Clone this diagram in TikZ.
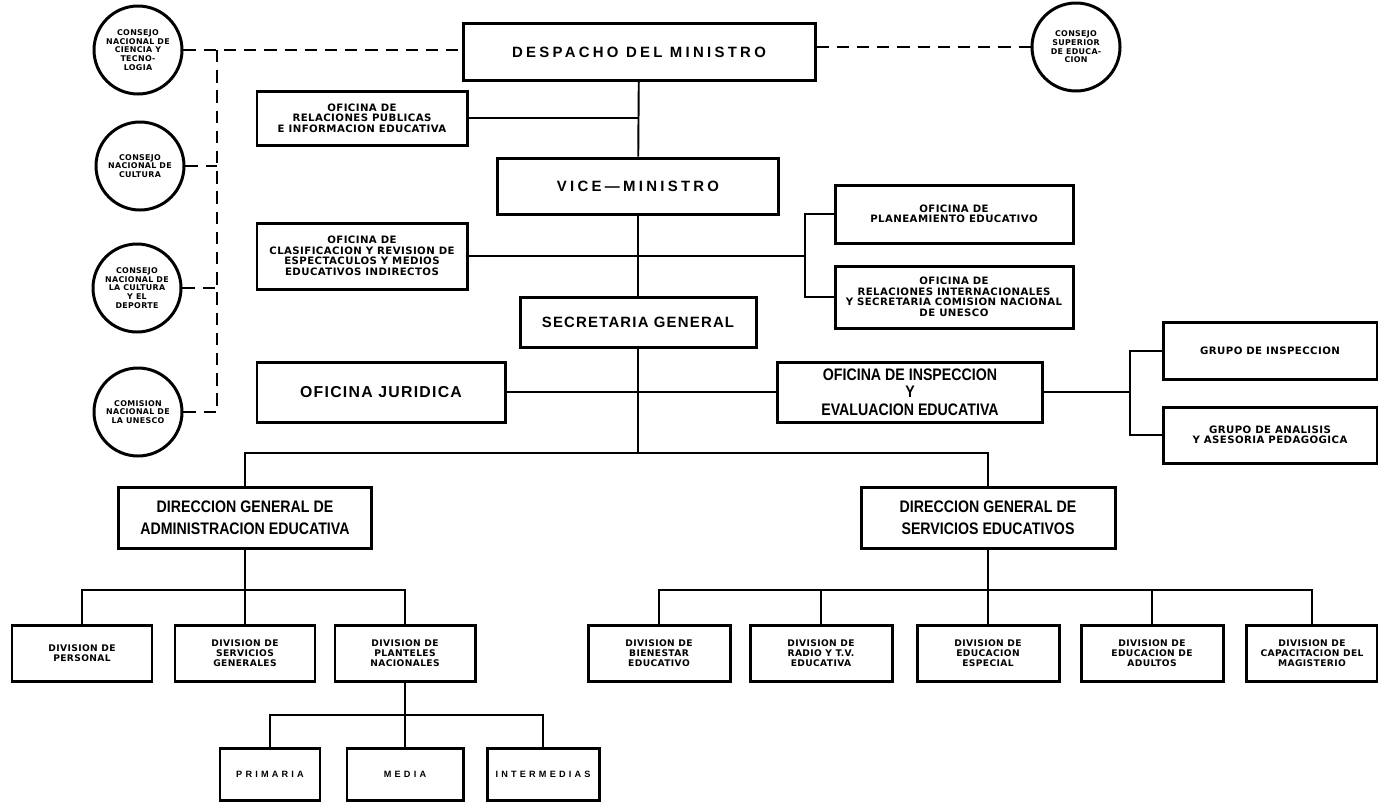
\documentclass[tikz,border=0pt]{standalone}
\usepackage{fontspec}
\setmainfont{Liberation Sans}
\newfontfamily\spacedfont[LetterSpace=22]{Liberation Sans}
\newfontfamily\tightfont[LetterSpace=8]{Liberation Sans}
\newfontfamily\narrowfont[FakeStretch=0.85]{Liberation Sans}
\newfontfamily\widefont[LetterSpace=35]{Liberation Sans}
\newfontfamily\heavyfont[LetterSpace=4]{DejaVu Sans}
\usetikzlibrary{positioning}
\newlength\pxu
\setlength\pxu{0.02cm}

\begin{document}
\begin{tikzpicture}[
    x=0.02cm, y=-0.02cm,
    box/.style={draw, line width=1.7pt, inner sep=0pt, align=center},
    boxsize/.style 2 args={minimum width=#1\pxu, minimum height=#2\pxu},
    chief/.style={box, font=\spacedfont\bfseries\fontsize{8.5}{10}\selectfont},
    office/.style={box, font=\heavyfont\bfseries\fontsize{5.8}{6}\selectfont},
    dirbox/.style={box, font=\narrowfont\bfseries\fontsize{9.5}{12.5}\selectfont},
    division/.style={box, boxsize={140}{56}, font=\heavyfont\bfseries\fontsize{5.2}{5.5}\selectfont},
    school/.style={box, boxsize={110}{52}, font=\widefont\bfseries\fontsize{5.2}{6}\selectfont},
    council/.style={circle, draw, line width=1.7pt, inner sep=0pt, minimum size=88\pxu,
        align=center, font=\heavyfont\bfseries\fontsize{4.5}{4.9}\selectfont},
    link/.style={line width=1.1pt},
    advisory/.style={line width=1.3pt, dash pattern=on 7pt off 4.5pt}
]
\useasboundingbox (0,0) rectangle (1378,802);

% Top - minister and councils
\node[chief, boxsize={352}{57}] (despacho) at (639,52) {DESPACHO DEL MINISTRO};
\node[council] (ciencia) at (138,50) {CONSEJO\\NACIONAL DE\\CIENCIA Y\\TECNO-\\LOGIA};
\node[council] (cultura) at (140,166) {CONSEJO\\NACIONAL DE\\CULTURA};
\node[council] (deporte) at (137,288) {CONSEJO\\NACIONAL DE\\LA CULTURA\\Y EL\\DEPORTE};
\node[council] (unesco) at (138,412) {COMISION\\NACIONAL DE\\LA UNESCO};
\node[council] (superior) at (1076,47) {CONSEJO\\SUPERIOR\\DE EDUCA-\\CION};
\coordinate (dashtop) at (217,50);
\coordinate (dashbot) at (217,412);

% Dashed advisory lines
\draw[advisory] (ciencia.east) -- (ciencia.east -| despacho.west);
\draw[advisory] (despacho.east |- superior.west) -- (superior.west);
\draw[advisory] (dashtop) -- (dashbot);
\draw[advisory] (cultura.east) -- (cultura.east -| dashtop);
\draw[advisory] (deporte.east) -- (deporte.east -| dashtop);
\draw[advisory] (unesco.east) -- (dashbot);

% Staff offices along the trunk
\node[office, boxsize={210}{54}] (relpub) at (362,118) {OFICINA DE\\RELACIONES PUBLICAS\\E INFORMACION EDUCATIVA};
\node[chief, boxsize={281}{56}] (vice) at (638,186) {VICE\textemdash MINISTRO};
\node[office, boxsize={210}{66}] (clasif) at (362,256) {OFICINA DE\\CLASIFICACION Y REVISION DE\\ESPECTACULOS Y MEDIOS\\EDUCATIVOS INDIRECTOS};
\node[office, boxsize={238}{58}] (planea) at (954,214) {OFICINA DE\\PLANEAMIENTO EDUCATIVO};
\node[office, boxsize={238}{62}] (relint) at (954,297) {OFICINA DE\\RELACIONES INTERNACIONALES\\Y SECRETARIA COMISION NACIONAL\\DE UNESCO};
\node[chief, boxsize={236}{50}, font=\tightfont\bfseries\fontsize{8.5}{10}\selectfont] (secre) at (638,322) {SECRETARIA GENERAL};
\node[chief, boxsize={248}{60}, font=\tightfont\bfseries\fontsize{9}{10}\selectfont] (jurid) at (381,392) {OFICINA JURIDICA};
\node[dirbox, boxsize={265}{60}, font=\narrowfont\bfseries\fontsize{9.5}{10}\selectfont] (inspec) at (910,392) {OFICINA DE INSPECCION\\Y\\EVALUACION EDUCATIVA};
\node[office, boxsize={214}{57}] (grupoins) at (1270,351) {GRUPO DE INSPECCION};
\node[office, boxsize={214}{56}] (grupoana) at (1270,435) {GRUPO DE ANALISIS\\Y ASESORIA PEDAGOGICA};
\coordinate (planbr) at (805,256);
\coordinate (grupobr) at (1130,392);

\draw[link] (despacho) -- (vice);
\draw[link] (vice) -- (secre);
\draw[link] (relpub.east) -- (relpub.east -| despacho.south);
\draw[link] (clasif.east) -- (planbr);
\draw[link] (planea.west) -| (planbr) |- (relint.west);
\draw[link] (jurid) -- (inspec);
\draw[link] (inspec.east) -- (grupobr);
\draw[link] (grupoins.west) -| (grupobr) |- (grupoana.west);

% Directions general
\node[dirbox, boxsize={253}{61}] (diradm) at (245,518) {DIRECCION GENERAL DE\\ADMINISTRACION EDUCATIVA};
\node[dirbox, boxsize={254}{61}] (dirserv) at (988,518) {DIRECCION GENERAL DE\\SERVICIOS EDUCATIVOS};
\coordinate (dirbar) at (638,453);
\draw[link] (secre.south) -- (dirbar);
\draw[link] (diradm.north) |- (dirbar) -| (dirserv.north);

% Divisions - administration
\node[division] (personal) at (82,653) {DIVISION DE\\PERSONAL};
\node[division] (servgen) at (245,653) {DIVISION DE\\SERVICIOS\\GENERALES};
\node[division] (planteles) at (405,653) {DIVISION DE\\PLANTELES\\NACIONALES};
\coordinate (admbar) at (245,590);
\draw[link] (diradm.south) -- (servgen.north);
\draw[link] (personal.north) |- (admbar) -| (planteles.north);

% Divisions - services
\foreach \x/\w/\name/\txt in {659/142/bienestar/{DIVISION DE\\BIENESTAR\\EDUCATIVO},
        821/142/radio/{DIVISION DE\\RADIO Y T.V.\\EDUCATIVA},
        988/142/especial/{DIVISION DE\\EDUCACION\\ESPECIAL},
        1152/142/adultos/{DIVISION DE\\EDUCACION DE\\ADULTOS},
        1312/131/capacit/{DIVISION DE\\CAPACITACION DEL\\MAGISTERIO}} {
    \node[division, boxsize={\w}{56}] (\name) at (\x,653) {\txt};
}
\coordinate (servbar) at (988,590);
\draw[link] (dirserv.south) -- (especial.north);
\draw[link] (bienestar.north) |- (servbar) -| (capacit.north);
\draw[link] (radio.north) -- (radio.north |- servbar);
\draw[link] (adultos.north) -- (adultos.north |- servbar);

% Levels of schooling
\node[school, boxsize={100}{52}] (primaria) at (270,774) {PRIMARIA};
\node[school, boxsize={116}{52}] (media) at (405,774) {MEDIA};
\node[school, boxsize={112}{52}] (intermed) at (543,774) {INTERMEDIAS};
\coordinate (schoolbar) at (405,715);
\draw[link] (planteles.south) -- (media.north);
\draw[link] (primaria.north) |- (schoolbar) -| (intermed.north);

\end{tikzpicture}
\end{document}
